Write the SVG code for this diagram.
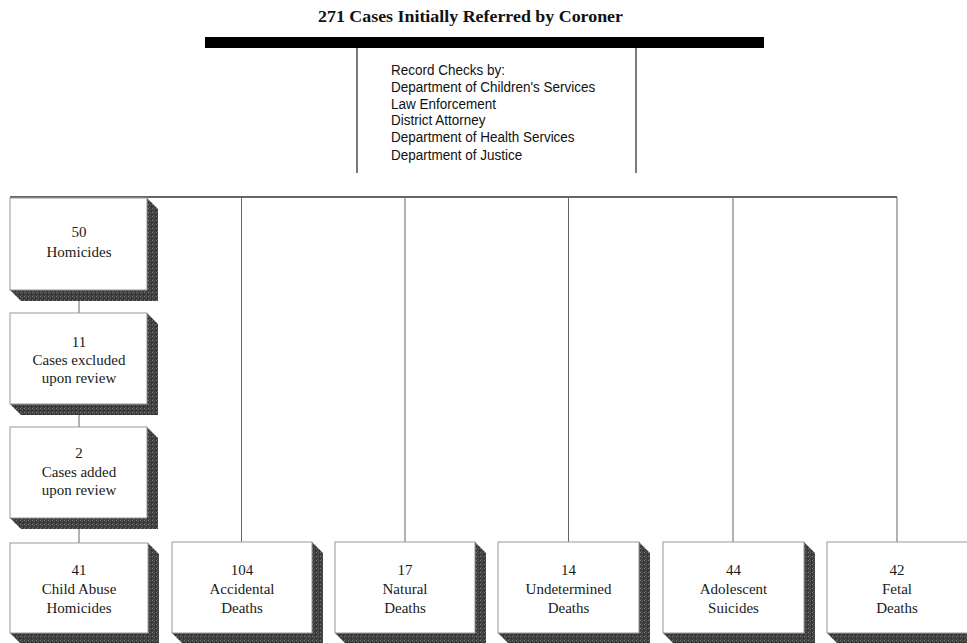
<svg xmlns="http://www.w3.org/2000/svg" width="967" height="643" viewBox="0 0 967 643">
<defs>
<pattern id="stipple" width="4" height="4" patternUnits="userSpaceOnUse">
<rect width="4" height="4" fill="#3e3e3e"/>
<rect x="0" y="0" width="1" height="1" fill="#7a7a7a"/>
<rect x="2" y="1" width="1" height="1" fill="#666"/>
<rect x="1" y="3" width="1" height="1" fill="#5e5e5e"/>
<rect x="3" y="2" width="1" height="1" fill="#262626"/>
</pattern>
<style>
.title{font-family:"Liberation Serif","Times New Roman",serif;font-weight:bold;font-size:16.5px;fill:#111}
.rc{font-family:"Liberation Sans",Arial,sans-serif;font-size:14.5px;fill:#111}
.lbl{font-family:"Liberation Serif","Times New Roman",serif;font-size:15px;fill:#1a1a1a;text-anchor:middle}
.face{fill:#fff;stroke:#999;stroke-width:1}
.shadow{fill:url(#stipple)}
.conn{stroke:#333;stroke-width:1.3;fill:none}
.thin{stroke:#666;stroke-width:1;fill:none}
</style>
</defs>
<rect width="967" height="643" fill="#fff"/>

<g id="header">
<text class="title" x="318" y="22" textLength="305" lengthAdjust="spacingAndGlyphs">271 Cases Initially Referred by Coroner</text>
<rect x="205" y="37" width="559" height="11" fill="#000"/>
<g transform="translate(391,0) scale(0.93,1)">
<text class="rc" x="0" y="75">Record Checks by:</text>
<text class="rc" x="0" y="92.5">Department of Children's Services</text>
<text class="rc" x="0" y="109">Law Enforcement</text>
<text class="rc" x="0" y="125.5">District Attorney</text>
<text class="rc" x="0" y="142.5">Department of Health Services</text>
<text class="rc" x="0" y="160">Department of Justice</text>
</g>
</g>

<g id="connectors">
<line class="conn" x1="357" y1="48" x2="357" y2="173"/>
<line class="conn" x1="636" y1="48" x2="636" y2="173"/>
<line class="conn" x1="10" y1="197" x2="897" y2="197"/>
<line class="thin" x1="241.5" y1="197" x2="241.5" y2="542"/>
<line class="thin" x1="405" y1="197" x2="405" y2="542"/>
<line class="thin" x1="568.5" y1="197" x2="568.5" y2="542"/>
<line class="thin" x1="733" y1="197" x2="733" y2="542"/>
<line class="thin" x1="897" y1="197" x2="897" y2="542"/>
<line class="thin" x1="79" y1="290" x2="79" y2="313"/>
<line class="thin" x1="79" y1="404" x2="79" y2="427"/>
<line class="thin" x1="79" y1="518" x2="79" y2="543"/>
</g>

<g id="homicides">
<polygon class="shadow" points="147,198 158,209 158,301 21,301 10,290 147,290"/>
<rect class="face" x="10" y="198" width="137" height="92"/>
<text class="lbl" x="79" y="237">50</text>
<text class="lbl" x="79" y="257">Homicides</text>
</g>

<g id="excluded">
<polygon class="shadow" points="147,313 158,324 158,415 21,415 10,404 147,404"/>
<rect class="face" x="10" y="313" width="137" height="91"/>
<text class="lbl" x="79" y="347">11</text>
<text class="lbl" x="79" y="365">Cases excluded</text>
<text class="lbl" x="79" y="383">upon review</text>
</g>

<g id="added">
<polygon class="shadow" points="147,427 158,438 158,529 21,529 10,518 147,518"/>
<rect class="face" x="10" y="427" width="137" height="91"/>
<text class="lbl" x="79" y="458">2</text>
<text class="lbl" x="79" y="477">Cases added</text>
<text class="lbl" x="79" y="495">upon review</text>
</g>

<g id="child-abuse">
<polygon class="shadow" points="148,543 159,554 159,644 21,644 10,633 148,633"/>
<rect class="face" x="10" y="543" width="138" height="90"/>
<text class="lbl" x="79" y="575">41</text>
<text class="lbl" x="79" y="594">Child Abuse</text>
<text class="lbl" x="79" y="613">Homicides</text>
</g>

<g id="accidental">
<polygon class="shadow" points="312,542 323,553 323,644 183,644 172,633 312,633"/>
<rect class="face" x="172" y="542" width="140" height="91"/>
<text class="lbl" x="242" y="575">104</text>
<text class="lbl" x="242" y="594">Accidental</text>
<text class="lbl" x="242" y="613">Deaths</text>
</g>

<g id="natural">
<polygon class="shadow" points="475,542 486,553 486,644 346,644 335,633 475,633"/>
<rect class="face" x="335" y="542" width="140" height="91"/>
<text class="lbl" x="405" y="575">17</text>
<text class="lbl" x="405" y="594">Natural</text>
<text class="lbl" x="405" y="613">Deaths</text>
</g>

<g id="undetermined">
<polygon class="shadow" points="639,542 650,553 650,644 509,644 498,633 639,633"/>
<rect class="face" x="498" y="542" width="141" height="91"/>
<text class="lbl" x="568.5" y="575">14</text>
<text class="lbl" x="568.5" y="594">Undetermined</text>
<text class="lbl" x="568.5" y="613">Deaths</text>
</g>

<g id="adolescent">
<polygon class="shadow" points="804,542 815,553 815,644 674,644 663,633 804,633"/>
<rect class="face" x="663" y="542" width="141" height="91"/>
<text class="lbl" x="733.5" y="575">44</text>
<text class="lbl" x="733.5" y="594">Adolescent</text>
<text class="lbl" x="733.5" y="613">Suicides</text>
</g>

<g id="fetal">
<polygon class="shadow" points="968,542 979,553 979,644 838,644 827,633 968,633"/>
<rect class="face" x="827" y="542" width="141" height="91"/>
<text class="lbl" x="897" y="575">42</text>
<text class="lbl" x="897" y="594">Fetal</text>
<text class="lbl" x="897" y="613">Deaths</text>
</g>
</svg>
